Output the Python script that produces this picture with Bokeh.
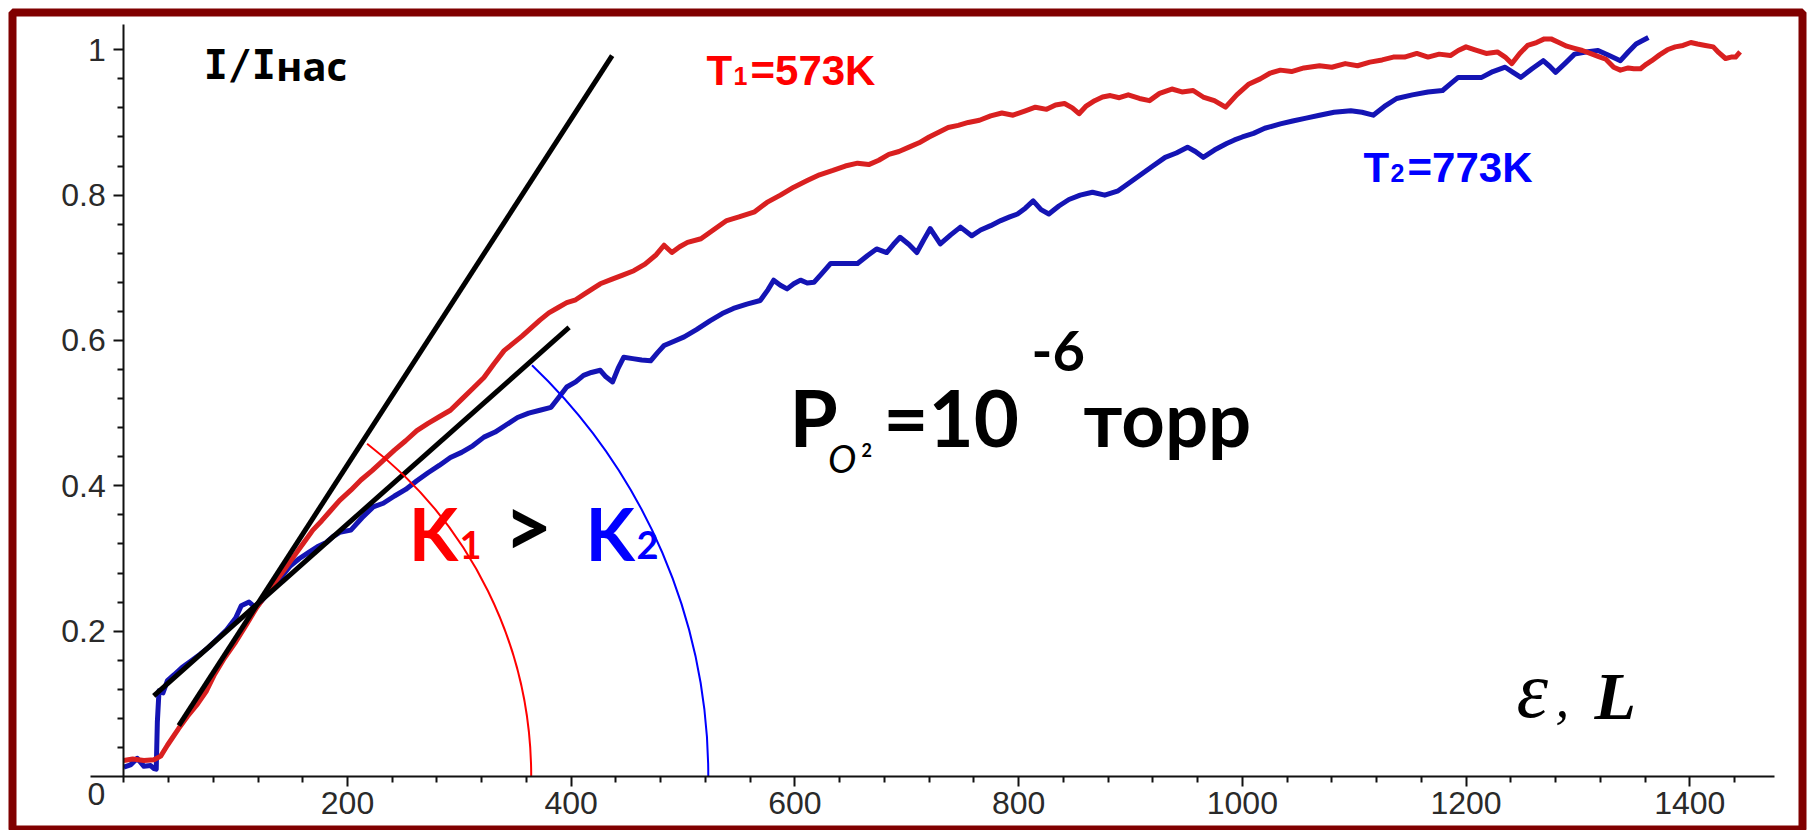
import math
from bokeh.plotting import figure
from bokeh.models import Range1d, LinearAxis, FixedTicker, CustomJSTickFormatter, Grid
from bokeh.core.properties import value
from bokeh.embed import file_html
from bokeh.resources import INLINE

# ---------------- data ----------------
red_x = [0, 8, 18, 27, 33, 39, 49, 57, 66, 74, 81, 90, 100, 110, 119, 128, 137, 145, 153, 161,
         169, 177, 185, 193, 203, 212, 222, 232, 242, 252, 262, 272, 282, 292, 302, 312, 322, 331,
         340, 348, 356, 364, 372, 380, 388, 396, 404, 412, 420, 426, 436, 446, 456, 466, 476, 483,
         490, 497, 504, 516, 527, 539, 550, 564, 575, 587, 599, 611, 622, 634, 645, 656, 666, 675,
         684, 693, 702, 711, 720, 729, 737, 746, 755, 765, 775, 785, 795, 806, 815, 825, 833, 841,
         848, 854, 860, 868, 875, 882, 890, 898, 908, 917, 926, 937, 946, 956, 965, 975, 985, 995,
         1006, 1016, 1025, 1034, 1044, 1055, 1069, 1080, 1092, 1103, 1114, 1125, 1135, 1145, 1156,
         1166, 1176, 1186, 1193, 1200, 1208, 1218, 1228, 1235, 1241, 1248, 1255, 1263, 1270, 1276,
         1283, 1290, 1297, 1304, 1311, 1318, 1325, 1332, 1338, 1345, 1350, 1356, 1361, 1366, 1373,
         1380, 1387, 1394, 1401, 1407, 1414, 1421, 1426, 1432, 1437, 1441, 1445]
red_y = [0.022, 0.024, 0.022, 0.023, 0.028, 0.043, 0.066, 0.083, 0.100, 0.118, 0.140, 0.163, 0.185,
         0.210, 0.233, 0.252, 0.271, 0.288, 0.305, 0.322, 0.339, 0.352, 0.366, 0.380, 0.394, 0.408,
         0.421, 0.435, 0.449, 0.462, 0.476, 0.486, 0.495, 0.504, 0.519, 0.534, 0.549, 0.568, 0.586,
         0.596, 0.606, 0.617, 0.628, 0.638, 0.645, 0.652, 0.656, 0.664, 0.672, 0.678, 0.684, 0.690,
         0.696, 0.705, 0.718, 0.731, 0.721, 0.729, 0.735, 0.740, 0.752, 0.765, 0.770, 0.777, 0.790,
         0.800, 0.811, 0.820, 0.828, 0.834, 0.840, 0.844, 0.842, 0.848, 0.856, 0.860, 0.866, 0.872,
         0.880, 0.887, 0.893, 0.896, 0.900, 0.903, 0.909, 0.913, 0.910, 0.916, 0.921, 0.918, 0.924,
         0.926, 0.920, 0.912, 0.922, 0.930, 0.935, 0.937, 0.934, 0.938, 0.933, 0.930, 0.940, 0.946,
         0.942, 0.944, 0.935, 0.930, 0.921, 0.938, 0.953, 0.960, 0.968, 0.972, 0.970, 0.975, 0.978,
         0.976, 0.981, 0.978, 0.983, 0.986, 0.990, 0.990, 0.995, 0.990, 0.994, 0.992, 0.999, 1.004,
         1.000, 0.995, 0.997, 0.990, 0.981, 0.995, 1.006, 1.010, 1.015, 1.015, 1.010, 1.005, 1.002,
         0.999, 0.995, 0.991, 0.987, 0.976, 0.972, 0.975, 0.974, 0.974, 0.980, 0.985, 0.993, 1.000,
         1.004, 1.006, 1.010, 1.008, 1.006, 1.004, 0.996, 0.988, 0.990, 0.990, 0.997]

blue_x = [0, 6, 12, 18, 24, 27, 29, 30, 31.5, 35, 39, 45, 52, 61, 68, 76, 84, 92, 100, 105, 112,
          118, 125, 133, 141, 149, 157, 165, 173, 181, 187, 193, 203, 213, 223, 232, 242, 252, 262,
          272, 282, 292, 302, 312, 322, 332, 342, 352, 362, 372, 382, 389, 396, 404, 411, 418, 426,
          431, 437, 442, 447, 455, 463, 471, 477, 483, 492, 501, 512, 524, 535, 545, 557, 569, 576,
          581, 587, 593, 599, 605, 611, 617, 624, 632, 644, 656, 665, 673, 682, 688, 694, 702, 709,
          715, 721, 730, 739, 748, 758, 766, 775, 784, 792, 799, 806, 813, 820, 827, 836, 845, 855,
          866, 877, 889, 900, 910, 920, 931, 941, 951, 958, 965, 975, 986, 993, 1000, 1010, 1020,
          1034, 1045, 1057, 1069, 1082, 1097, 1107, 1117, 1127, 1138, 1152, 1166, 1179, 1186, 1193,
          1203, 1214, 1224, 1235, 1242, 1249, 1259, 1269, 1275, 1280, 1289, 1297, 1307, 1318, 1328,
          1338, 1345, 1352, 1357, 1363]
blue_y = [0.013, 0.016, 0.025, 0.014, 0.015, 0.011, 0.010, 0.075, 0.118, 0.115, 0.132, 0.140, 0.150,
          0.160, 0.168, 0.178, 0.190, 0.202, 0.218, 0.235, 0.240, 0.232, 0.245, 0.260, 0.275, 0.290,
          0.300, 0.308, 0.316, 0.322, 0.330, 0.336, 0.339, 0.356, 0.371, 0.376, 0.386, 0.395, 0.407,
          0.418, 0.428, 0.439, 0.446, 0.455, 0.467, 0.474, 0.484, 0.494, 0.500, 0.504, 0.508, 0.522,
          0.536, 0.543, 0.552, 0.556, 0.559, 0.550, 0.543, 0.562, 0.577, 0.575, 0.573, 0.572, 0.583,
          0.593, 0.599, 0.605, 0.615, 0.627, 0.637, 0.644, 0.650, 0.655, 0.670, 0.683, 0.676, 0.671,
          0.678, 0.683, 0.679, 0.680, 0.692, 0.706, 0.706, 0.706, 0.717, 0.726, 0.721, 0.732, 0.742,
          0.732, 0.721, 0.738, 0.754, 0.733, 0.745, 0.756, 0.744, 0.752, 0.758, 0.765, 0.770, 0.774,
          0.782, 0.792, 0.780, 0.774, 0.785, 0.794, 0.800, 0.804, 0.800, 0.806, 0.818, 0.829, 0.840,
          0.852, 0.858, 0.866, 0.860, 0.852, 0.862, 0.871, 0.876, 0.880, 0.885, 0.892, 0.898, 0.902,
          0.906, 0.910, 0.914, 0.916, 0.914, 0.910, 0.922, 0.933, 0.938, 0.942, 0.944, 0.953, 0.962,
          0.962, 0.962, 0.970, 0.976, 0.969, 0.962, 0.974, 0.985, 0.977, 0.969, 0.982, 0.994, 0.997,
          0.999, 0.992, 0.985, 0.997, 1.008, 1.012, 1.017]

x_major_ticks = [200, 400, 600, 800, 1000, 1200, 1400]
x_minor_ticks = [0, 40, 80, 120, 160, 240, 280, 320, 360, 440, 480, 520, 560, 640, 680, 720, 760,
                 840, 880, 920, 960, 1040, 1080, 1120, 1160, 1240, 1280, 1320, 1360, 1440]
y_major_ticks = [0.2, 0.4, 0.6, 0.8, 1.0]
y_minor_ticks = [0.04, 0.08, 0.12, 0.16, 0.24, 0.28, 0.32, 0.36, 0.44, 0.48, 0.52, 0.56,
                 0.64, 0.68, 0.72, 0.76, 0.84, 0.88, 0.92, 0.96]

# tangent lines (annotation)
steep_x = [49.2, 436.6]
steep_y = [0.070, 0.992]
shallow_x = [26.8, 398.1]
shallow_y = [0.111, 0.618]

# angle arcs (annotation): centre x, radius in px, end angle in degrees
arc_red = (-10.8, 419.5, 52.5)
arc_blue = (14.75, 568.0, 46.4)

RED_CURVE = "#d92020"
BLUE_CURVE = "#1414b4"

# ---------------- figure ----------------
p = figure(width=1812, height=830, output_backend="svg", toolbar_location=None, title=None,
           x_range=Range1d(-99.5, 1500.8), y_range=Range1d(-0.0743, 1.0513),
           x_axis_location=None, y_axis_location=None,
           min_border_left=12, min_border_right=10, min_border_top=12, min_border_bottom=0,
           background_fill_color="white", border_fill_color="white",
           outline_line_color="#800000", outline_line_width=8)
p.center = [r for r in p.center if not isinstance(r, Grid)]

xaxis = LinearAxis(fixed_location=0, bounds=(-30, 1476),
                   ticker=FixedTicker(ticks=x_major_ticks, minor_ticks=x_minor_ticks))
yaxis = LinearAxis(fixed_location=0, bounds=(0, 1.035),
                   ticker=FixedTicker(ticks=y_major_ticks, minor_ticks=y_minor_ticks),
                   formatter=CustomJSTickFormatter(code="return String(Math.round(tick*10)/10);"))
for ax, standoff in ((xaxis, 5), (yaxis, 8)):
    ax.axis_line_color = "#111111"
    ax.axis_line_width = 2
    ax.major_tick_line_color = "#111111"
    ax.major_tick_line_width = 2
    ax.minor_tick_line_color = "#111111"
    ax.minor_tick_line_width = 2
    ax.major_tick_out = 10
    ax.major_tick_in = 0
    ax.minor_tick_out = 6
    ax.minor_tick_in = 0
    ax.major_label_text_font = "Liberation Sans"
    ax.major_label_text_font_size = "32px"
    ax.major_label_text_color = "#2a2a2a"
    ax.major_label_standoff = standoff
p.add_layout(xaxis, "below")
p.add_layout(yaxis, "left")

# origin label
p.text(x=[-24.6], y=[-0.0234], text=["0"], text_font=value("Liberation Sans"),
       text_font_size="32px", text_color="#2a2a2a", text_align="center", text_baseline="middle")

# curves
p.line(blue_x, blue_y, line_color=BLUE_CURVE, line_width=5, line_join="round")
p.line(red_x, red_y, line_color=RED_CURVE, line_width=5, line_join="round")

# tangents
p.line(steep_x, steep_y, line_color="black", line_width=5)
p.line(shallow_x, shallow_y, line_color="black", line_width=5)

# arcs
for (cx, r, ang), col in ((arc_red, "#ff0000"), (arc_blue, "#0000ff")):
    p.arc(x=[cx], y=[0], radius=[r], radius_units="screen", start_angle=0,
          end_angle=math.radians(ang), direction="anticlock", line_color=col, line_width=2)

# ---------------- texts (anchored at their vertical middle) ----------------
def txt(x, y, s, font, size, color="black", style="bold"):
    p.text(x=[x], y=[y], text=[s], text_font=value(font), text_font_size=size,
           text_font_style=style, text_color=color, text_align="left", text_baseline="middle")

txt(71.4, 0.9785, "I/I", "DejaVu Sans Mono", "40px")
txt(136.0, 0.9785, "нас", "Open Sans", "40px")

txt(520.9, 0.9717, "T", "Liberation Sans", "42px", "#ff0000")
txt(545.0, 0.9633, "1", "Liberation Sans", "25px", "#ff0000")
txt(560.3, 0.9717, "=573K", "Liberation Sans", "42px", "#ff0000")

txt(1108.3, 0.8382, "T", "Liberation Sans", "42px", "#0000ff")
txt(1132.5, 0.8298, "2", "Liberation Sans", "25px", "#0000ff")
txt(1147.7, 0.8382, "=773K", "Liberation Sans", "42px", "#0000ff")

txt(595.1, 0.4942, "P", "Lato", "78px")
txt(629.5, 0.4379, "O", "Lato", "38px", style="italic")
txt(659.5, 0.4490, "2", "Lato", "18px")
txt(679.0, 0.4942, "=10", "Lato", "78px")
txt(811.5, 0.5851, "-6", "Lato", "56px")
txt(857.9, 0.4942, "торр", "Lato", "76px")

txt(254.8, 0.3349, "K", "Lato", "72px", "#ff0000")
txt(300.1, 0.3188, "1", "Lato", "38px", "#ff0000")
txt(339.7, 0.3468, ">", "Lato", "84px", "black")
txt(412.8, 0.3349, "K", "Lato", "72px", "#0000ff")
txt(458.4, 0.3188, "2", "Lato", "38px", "#0000ff")

txt(1245.1, 0.1186, "ε", "Liberation Serif", "80px", style="italic")
txt(1280.0, 0.1069, ",", "Liberation Serif", "55px", style="italic")
txt(1314.8, 0.1110, "L", "Liberation Serif", "68px", style="bold italic")

open("out.html", "w").write(file_html(p, INLINE))
